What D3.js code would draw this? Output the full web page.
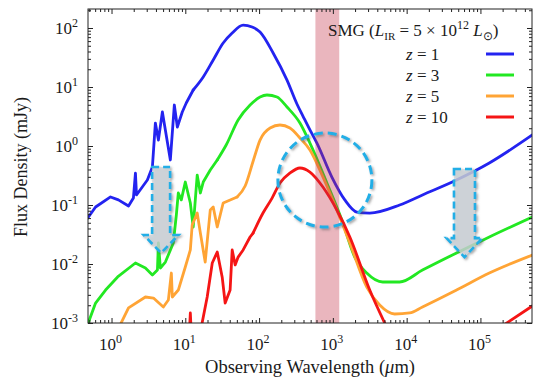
<!DOCTYPE html>
<html>
<head>
<meta charset="utf-8">
<script src="https://cdn.jsdelivr.net/npm/d3@7"></script>
<style>
  body { margin: 0; background: #fff; }
  text { font-family: "Liberation Serif", "Times New Roman", serif; fill: #1a1a1a; }
</style>
</head>
<body>
<div id="chart"></div>
<script>
// SED of an SMG (L_IR = 5e12 Lsun) at several redshifts, [wavelength (um), flux (mJy)]
const blueSed = [[0.474,0.060],[0.608,0.0925],[0.97,0.137],[1.24,0.122],[1.70,0.096],[1.98,0.131],[2.11,0.348],[2.18,0.148],
  [3.06,0.265],[3.58,0.44],[3.93,2.45],[4.32,1.26],[4.89,3.77],[6.27,0.58],[7.10,4.95],[7.80,2.10],[9.10,3.77],[10.3,5.36],
  [12.8,8.9],[17.5,14.8],[23.9,28.7],[32.6,55.7],[43.2,82.3],[60.8,112],[80.4,104],[103,85.5],[155,37.7],[239,13.1],
  [326,5.15],[393,3.22],[489,1.87],[608,1.12],[969,0.298],[1452,0.122],[2110,0.076],[3160,0.073],[8040,0.100],
  [16400,0.148],[47400,0.265],[132000,0.515],[505000,1.54]];
const greenSed = [[0.489,0.00104],[0.608,0.00218],[0.83,0.00362],[1.21,0.00603],[2.11,0.0104],[2.88,0.00855],[3.58,0.00651],
  [4.19,0.00791],[4.32,0.0227],[4.59,0.00855],[5.37,0.0108],[6.88,0.0227],[7.56,0.0677],[8.04,0.16],[8.83,0.122],[10.0,0.245],
  [11.7,0.108],[12.8,0.0424],[14.5,0.322],[16.0,0.16],[17.5,0.245],[21.8,0.392],[27.1,0.58],[35.8,1.04],[52.0,2.76],
  [75.5,4.95],[103,6.77],[128,7.32],[175,6.77],[239,4.58],[358,2.45],[489,1.12],[830,0.236],[1324,0.0557],[1980,0.0131],
  [2880,0.00703],[4740,0.00495],[8040,0.00495],[16400,0.0079],[47400,0.0154],[132000,0.0287],[505000,0.0626]];
const orangeSed = [[1.21,0.00076],[1.70,0.0018],[2.88,0.00276],[3.70,0.00265],[5.04,0.00187],[5.89,0.00245],[6.47,0.00703],
  [6.67,0.00276],[8.04,0.00362],[10.0,0.0089],[11.7,0.0173],[12.4,0.0458],[14.5,0.0731],[16.0,0.0335],[18.6,0.0108],
  [21.8,0.0823],[23.9,0.0925],[27.1,0.0424],[32.6,0.108],[50.4,0.137],[64.7,0.21],[84,0.58],[103,1.26],[141,2.02],
  [192,2.27],[262,2.02],[358,1.37],[489,0.855],[733,0.298],[1132,0.0823],[1698,0.0227],[2880,0.00407],[4315,0.00202],
  [6880,0.00142],[11000,0.00148],[16400,0.00187],[47400,0.00362],[132000,0.00703],[505000,0.0142]];
const redSed = [[11.3,0.0006],[11.7,0.00148],[12.1,0.0006],[16.0,0.0006],[17.0,0.00104],[19.8,0.00276],[23.2,0.0104],
  [27.1,0.016],[31.6,0.00603],[34.7,0.00218],[40.5,0.00362],[43.2,0.0173],[47.4,0.00962],[52.0,0.0131],[60.8,0.0173],
  [75.5,0.0287],[83,0.0335],[113,0.0731],[150,0.131],[192,0.236],[262,0.348],[358,0.424],[489,0.362],[733,0.202],
  [1132,0.0823],[1698,0.0287],[3160,0.00362],[5200,0.00092]];
const redRadio = [[200000,0.0009],[505000,0.00194]];

// jagged (PAH / stellar) part is drawn straight up to "smoothFrom", smooth beyond
const series = [
  { label: "1", color: "#2323f0", smoothFrom: 12.8, parts: [blueSed] },
  { label: "3", color: "#22e822", smoothFrom: 27.1, parts: [greenSed] },
  { label: "5", color: "#ffa435", smoothFrom: 50.4, parts: [orangeSed] },
  { label: "10", color: "#f51515", smoothFrom: 83, parts: [redSed, redRadio] }
];

const xDecades = [0, 1, 2, 3, 4, 5];
const yDecades = [-3, -2, -1, 0, 1, 2];
const almaBand = [580, 1220];
// dashed annotations (data coords)
const leftArrow = { lambda: 4.7, top: 0.44, tip: 0.0154 };
const rightArrow = { lambda: 60800, top: 0.408, tip: 0.0131 };
const circleMark = { lambda: 780, flux: 0.265 };

const width = 533, height = 383;
const margin = { top: 9, right: 1, bottom: 60, left: 88 };

const svg = d3.select("#chart").append("svg")
  .attr("width", width).attr("height", height);

const x = d3.scaleLog().domain([0.48, 5e5]).range([margin.left, width - margin.right]);
const y = d3.scaleLog().domain([1e-3, 210]).range([height - margin.bottom, margin.top]);

const defs = svg.append("defs");
defs.append("clipPath").attr("id", "plot")
  .append("rect").attr("x", x.range()[0]).attr("y", y.range()[1])
  .attr("width", x.range()[1] - x.range()[0]).attr("height", y.range()[0] - y.range()[1]);
const shadow = defs.append("filter").attr("id", "shadow")
  .attr("x", "-20%").attr("y", "-20%").attr("width", "140%").attr("height", "140%");
shadow.append("feDropShadow").attr("dx", 1.5).attr("dy", 1.5).attr("stdDeviation", 1.2)
  .attr("flood-color", "#555").attr("flood-opacity", 0.55);

const plot = svg.append("g").attr("clip-path", "url(#plot)");

const jagged = d3.line().x(d => x(d[0])).y(d => y(d[1]));
const smooth = d3.line().x(d => x(d[0])).y(d => y(d[1])).curve(d3.curveMonotoneX);

series.forEach(s => {
  s.parts.forEach(p => {
    const a = p.filter(d => d[0] <= s.smoothFrom);
    const b = p.filter(d => d[0] >= s.smoothFrom);
    [[a, jagged], [b, smooth]].forEach(([pts, gen]) => {
      if (pts.length < 2) return;
      plot.append("path").datum(pts)
        .attr("d", gen)
        .attr("fill", "none")
        .attr("stroke", s.color)
        .attr("stroke-width", 2.8)
        .attr("stroke-linejoin", "round")
        .attr("stroke-linecap", "round");
    });
  });
});

// ALMA band
plot.append("rect")
  .attr("x", x(almaBand[0])).attr("width", x(almaBand[1]) - x(almaBand[0]))
  .attr("y", y.range()[1]).attr("height", y.range()[0] - y.range()[1])
  .attr("fill", "rgb(195,45,70)").attr("opacity", 0.35);

// dashed arrows
function arrow(a, shaftW, headW, headH) {
  const cx = x(a.lambda), y0 = y(a.top), y1 = y(a.tip);
  const yb = y1 - headH;
  const pts = [[cx - shaftW / 2, y0], [cx + shaftW / 2, y0], [cx + shaftW / 2, yb], [cx + headW / 2, yb],
    [cx, y1], [cx - headW / 2, yb], [cx - shaftW / 2, yb]];
  plot.append("path")
    .attr("d", "M" + pts.join("L") + "Z")
    .attr("fill", "rgba(205,212,218,0.75)")
    .attr("stroke", "#22aee6")
    .attr("stroke-width", 2.6)
    .attr("stroke-dasharray", "7,4")
    .attr("filter", "url(#shadow)");
}
arrow(leftArrow, 18, 35, 18);
arrow(rightArrow, 21, 36, 19);

plot.append("circle")
  .attr("cx", x(circleMark.lambda)).attr("cy", y(circleMark.flux)).attr("r", 47)
  .attr("fill", "none")
  .attr("stroke", "#22aee6")
  .attr("stroke-width", 3)
  .attr("stroke-dasharray", "9,5")
  .attr("filter", "url(#shadow)");

// axes: ticks on all four sides, pointing in
const xMajor = xDecades.map(e => Math.pow(10, e));
const xMinor = [];
for (let e = -1; e <= 5; e++) for (let k = 2; k <= 9; k++) {
  const v = k * Math.pow(10, e);
  if (v > x.domain()[0] && v < x.domain()[1]) xMinor.push(v);
}
const yMajor = yDecades.map(e => Math.pow(10, e));
const yMinor = [];
for (let e = -3; e <= 2; e++) for (let k = 2; k <= 9; k++) {
  const v = k * Math.pow(10, e);
  if (v < y.domain()[1]) yMinor.push(v);
}

function ticks(axis, vals, size, tr) {
  const g = svg.append("g").attr("transform", tr)
    .call(axis.tickValues(vals).tickSize(-size).tickFormat(""));
  g.select(".domain").remove();
  g.selectAll("line").attr("stroke", "#222");
}
const bottomY = y.range()[0], topY = y.range()[1], leftX = x.range()[0], rightX = x.range()[1];
[[xMajor, 5], [xMinor, 3]].forEach(([v, s]) => {
  ticks(d3.axisBottom(x), v, s, `translate(0,${bottomY})`);
  ticks(d3.axisTop(x), v, s, `translate(0,${topY})`);
});
[[yMajor, 5], [yMinor, 3]].forEach(([v, s]) => {
  ticks(d3.axisLeft(y), v, s, `translate(${leftX},0)`);
  ticks(d3.axisRight(y), v, s, `translate(${rightX},0)`);
});

svg.append("rect")
  .attr("x", leftX).attr("y", topY).attr("width", rightX - leftX).attr("height", bottomY - topY)
  .attr("fill", "none").attr("stroke", "#222").attr("stroke-width", 1);

// tick labels 10^n
xDecades.forEach(e => {
  const t = svg.append("text")
    .attr("x", x(Math.pow(10, e)) - 1).attr("y", bottomY + 27)
    .attr("text-anchor", "middle").style("font-size", "17px");
  t.append("tspan").text("10");
  t.append("tspan").attr("dy", -7).style("font-size", "12px").text(e);
});
yDecades.forEach(e => {
  const t = svg.append("text")
    .attr("x", leftX - 10).attr("y", y(Math.pow(10, e)) + 6)
    .attr("text-anchor", "end").style("font-size", "17px");
  t.append("tspan").text("10");
  t.append("tspan").attr("dy", -7).style("font-size", "12px").text(e);
});

// axis titles
const xt = svg.append("text")
  .attr("x", 310).attr("y", 373).attr("text-anchor", "middle").style("font-size", "18.5px");
xt.append("tspan").text("Observing Wavelength (");
xt.append("tspan").style("font-style", "italic").text("\u03bc");
xt.append("tspan").text("m)");

svg.append("text")
  .attr("transform", "translate(27,167) rotate(-90)")
  .attr("text-anchor", "middle").style("font-size", "18px")
  .text("Flux Density (mJy)");

// legend
const lt = svg.append("text").attr("x", 328).attr("y", 36).style("font-size", "17px");
lt.append("tspan").text("SMG (");
lt.append("tspan").style("font-style", "italic").text("L");
lt.append("tspan").attr("dy", 4).style("font-size", "11px").text("IR");
lt.append("tspan").attr("dy", -4).text(" = 5 \u00d7 10");
lt.append("tspan").attr("dy", -7).style("font-size", "12px").text("12");
lt.append("tspan").attr("dy", 7).text(" ");
lt.append("tspan").style("font-style", "italic").text("L");
lt.append("tspan").attr("dy", 4).style("font-size", "12px").text("\u2299");
lt.append("tspan").attr("dy", -4).text(")");

series.forEach((s, i) => {
  const yy = 54 + i * 21;
  const t = svg.append("text").attr("x", 406).attr("y", yy + 6).style("font-size", "17px");
  t.append("tspan").style("font-style", "italic").text("z");
  t.append("tspan").text(" = " + s.label);
  svg.append("line")
    .attr("x1", 486).attr("x2", 514).attr("y1", yy).attr("y2", yy)
    .attr("stroke", s.color).attr("stroke-width", 3);
});
</script>
</body>
</html>
